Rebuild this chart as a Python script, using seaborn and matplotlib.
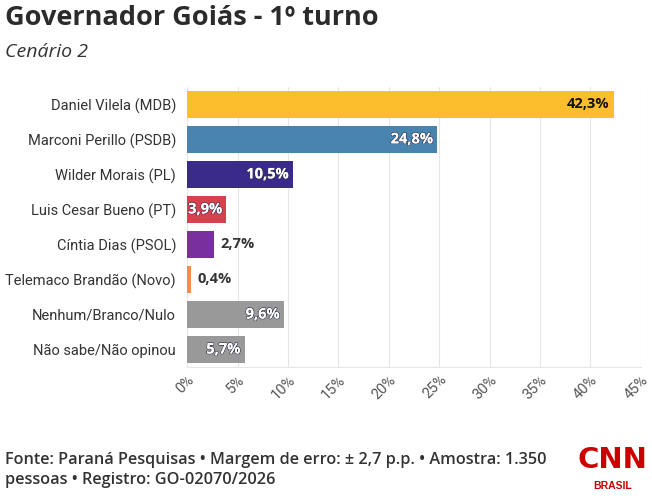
import matplotlib
matplotlib.use("Agg")
import matplotlib.pyplot as plt
import matplotlib.patheffects as pe
import seaborn as sns
import pandas as pd
from matplotlib.ticker import FuncFormatter

candidates = ["Daniel Vilela (MDB)", "Marconi Perillo (PSDB)", "Wilder Morais (PL)",
              "Luis Cesar Bueno (PT)", "Cíntia Dias (PSOL)", "Telemaco Brandão (Novo)",
              "Nenhum/Branco/Nulo", "Não sabe/Não opinou"]
values = [42.3, 24.8, 10.5, 3.9, 2.7, 0.4, 9.6, 5.7]
bar_colors = ["#FDBE2D", "#4884AE", "#3A2A8A", "#D7414D", "#7A2F9E", "#F38E50", "#999999", "#999999"]
# label placement: inside bars in white (except the yellow one), outside for tiny bars
label_inside = [True, True, True, True, False, False, True, True]
label_colors = ["#111111", "white", "white", "white", "#333333", "#333333", "white", "white"]

df = pd.DataFrame({"candidato": candidates, "valor": values})

sns.set_style("white")
plt.rcParams["font.family"] = ["Roboto", "DejaVu Sans"]
head_font = ["Open Sans", "DejaVu Sans"]

fig = plt.figure(figsize=(6.52, 4.96), dpi=100)
ax = fig.add_axes([0.287, 0.26, 0.696, 0.565])

sns.barplot(data=df, x="valor", y="candidato", hue="candidato", palette=bar_colors,
            legend=False, width=0.78, ax=ax, saturation=1, linewidth=0)

ax.set_xlim(0, 45)
ax.set_ylim(7.5, -0.5)
ax.set_xticks(range(0, 46, 5))
ax.xaxis.set_major_formatter(FuncFormatter(lambda v, p: f"{int(v)}%"))
ax.grid(axis="x", color="#e6e6e6", linewidth=0.8)
ax.set_axisbelow(True)
for s in ["top", "right", "left"]:
    ax.spines[s].set_visible(False)
ax.spines["bottom"].set_color("#e6e6e6")
ax.set_xlabel("")
ax.set_ylabel("")
ax.tick_params(axis="x", colors="#555555", labelsize=10.5, length=0, pad=4)
ax.tick_params(axis="y", colors="#333333", labelsize=10.5, length=0, pad=8)
for lbl in ax.get_xticklabels():
    lbl.set_rotation(45)
    lbl.set_ha("right")
    lbl.set_rotation_mode("anchor")

for i, (v, inside, c) in enumerate(zip(values, label_inside, label_colors)):
    txt = f"{v:.1f}%".replace(".", ",")
    if inside:
        t = ax.text(v - 0.4, i, txt, ha="right", va="center", color=c,
                    fontsize=10.5, fontweight="bold", family=head_font)
        if c == "white":
            t.set_path_effects([pe.withStroke(linewidth=1.0, foreground="#303050"), pe.Normal()])
    else:
        ax.text(v + 0.6, i, txt, ha="left", va="center", color=c,
                fontsize=10.5, fontweight="bold", family=head_font)

fig.text(0.008, 0.963, "Governador Goiás - 1º turno", fontsize=19.5, fontweight="bold",
         color="#2b2b2b", va="center", ha="left", family=head_font)
fig.text(0.008, 0.895, "Cenário 2", fontsize=14, fontstyle="italic", color="#333333",
         va="center", ha="left", family=head_font)

fig.text(0.008, 0.053, "Fonte: Paraná Pesquisas • Margem de erro: ± 2,7 p.p. • Amostra: 1.350\npessoas • Registro: GO-02070/2026",
         fontsize=11.7, fontweight="semibold", color="#333333", va="center", ha="left",
         linespacing=1.3, family=head_font)

fig.text(0.939, 0.072, "CNN", fontsize=21, fontweight="bold", color="#CC0000",
         ha="center", va="center", family=["Liberation Sans Narrow", "DejaVu Sans"])
fig.text(0.939, 0.02, "BRASIL", fontsize=7.5, fontweight="bold", color="#CC0000",
         ha="center", va="center", family=["Liberation Sans", "DejaVu Sans"])

fig.savefig("out.png", dpi=100)
